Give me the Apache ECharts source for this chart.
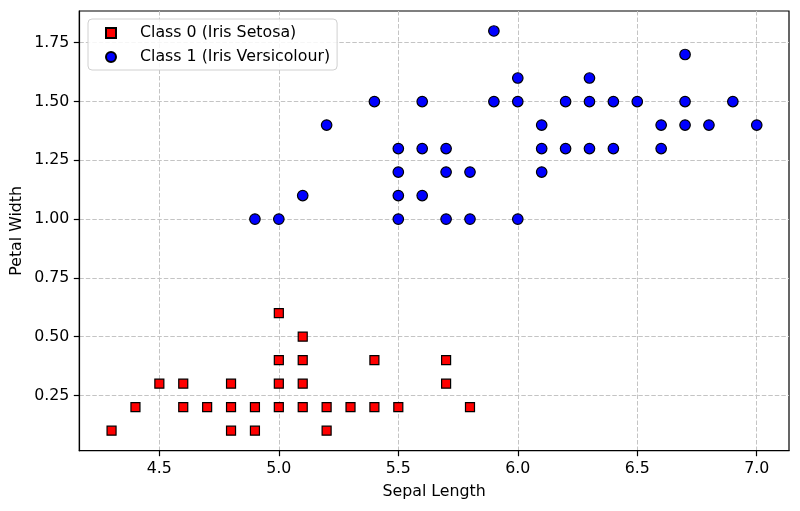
<!DOCTYPE html>
<html>
<head>
<meta charset="utf-8">
<script src="https://cdn.jsdelivr.net/npm/echarts@6/dist/echarts.min.js"></script>
<style>
  html, body { margin: 0; padding: 0; background: #fff; }
  #chart { width: 800px; height: 511px; }
</style>
</head>
<body>
<div id="chart"></div>
<script>
// Iris: sepal length (x) vs petal width (y)
var setosaX = [5.0, 5.1, 5.0, 5.1, 5.4, 5.7, 4.5, 4.6, 4.8, 5.0, 5.1, 5.7,
  4.4, 4.6, 4.7, 4.8, 4.9, 5.0, 5.1, 5.2, 5.3, 5.4, 5.5, 5.8, 4.3, 4.8, 4.9, 5.2];
var setosaY = [0.6, 0.5, 0.4, 0.4, 0.4, 0.4, 0.3, 0.3, 0.3, 0.3, 0.3, 0.3,
  0.2, 0.2, 0.2, 0.2, 0.2, 0.2, 0.2, 0.2, 0.2, 0.2, 0.2, 0.2, 0.1, 0.1, 0.1, 0.1];

var versiX = [5.9, 6.7, 6.0, 6.3,
  5.4, 5.6, 5.9, 6.0, 6.2, 6.3, 6.4, 6.5, 6.7, 6.9,
  5.2, 6.1, 6.6, 6.7, 6.8, 7.0,
  5.5, 5.6, 5.7, 6.1, 6.2, 6.3, 6.4, 6.6,
  5.5, 5.7, 5.8, 6.1,
  5.1, 5.5, 5.6,
  4.9, 5.0, 5.5, 5.7, 5.8, 6.0];
var versiY = [1.8, 1.7, 1.6, 1.6,
  1.5, 1.5, 1.5, 1.5, 1.5, 1.5, 1.5, 1.5, 1.5, 1.5,
  1.4, 1.4, 1.4, 1.4, 1.4, 1.4,
  1.3, 1.3, 1.3, 1.3, 1.3, 1.3, 1.3, 1.3,
  1.2, 1.2, 1.2, 1.2,
  1.1, 1.1, 1.1,
  1.0, 1.0, 1.0, 1.0, 1.0, 1.0];

var xTicks = [4.5, 5.0, 5.5, 6.0, 6.5, 7.0];
var yTicks = [0.25, 0.50, 0.75, 1.00, 1.25, 1.50, 1.75];

var names = ['Class 0 (Iris Setosa)', 'Class 1 (Iris Versicolour)'];

function pairs(xs, ys) {
  return xs.map(function (x, i) { return [x, ys[i]]; });
}

var FONT = 'DejaVu Sans';
var FS = 15.8;

var gridLine = {
  show: true,
  lineStyle: { color: '#c4c4c4', width: 1, type: [4.5, 2] }
};

var chart = echarts.init(document.getElementById('chart'));

var option = {
  backgroundColor: '#fff',
  animation: false,
  textStyle: { fontFamily: FONT, color: '#000' },
  grid: {
    left: 79.3, right: 11, top: 11, bottom: 60.3,
    show: true,
    borderColor: '#000',
    borderWidth: 1.2,
    backgroundColor: 'transparent',
    outerBoundsMode: 'none'
  },
  legend: {
    orient: 'vertical',
    left: 88, top: 19,
    padding: [6, 7, 5, 17],
    itemGap: 8,
    itemWidth: 10, itemHeight: 10,
    backgroundColor: 'rgba(255,255,255,0.85)',
    borderColor: '#d0d0d0',
    borderWidth: 1,
    borderRadius: 4,
    textStyle: { fontFamily: FONT, fontSize: FS, color: '#000', padding: [0, 0, 0, 19] },
    data: [
      { name: names[0], icon: 'rect' },
      { name: names[1], icon: 'circle' }
    ]
  },
  xAxis: {
    type: 'value',
    name: 'Sepal Length',
    nameLocation: 'middle',
    nameGap: 33.5,
    nameMoveOverlap: false,
    nameTextStyle: { fontFamily: FONT, fontSize: FS, color: '#000' },
    min: function (v) { return v.min - 0.05 * (v.max - v.min); },
    max: function (v) { return v.max + 0.05 * (v.max - v.min); },
    axisLine: { show: true, lineStyle: { color: '#000', width: 1.2 } },
    axisTick: { show: true, length: 5.5, customValues: xTicks, lineStyle: { color: '#000', width: 1.2 } },
    axisLabel: {
      customValues: xTicks,
      margin: 10,
      fontFamily: FONT, fontSize: FS, color: '#000',
      formatter: function (v) { return v.toFixed(1); }
    },
    splitLine: gridLine
  },
  yAxis: {
    type: 'value',
    name: 'Petal Width',
    nameLocation: 'middle',
    nameGap: 54,
    nameMoveOverlap: false,
    nameTextStyle: { fontFamily: FONT, fontSize: FS, color: '#000' },
    min: function (v) { return v.min - 0.05 * (v.max - v.min); },
    max: function (v) { return v.max + 0.05 * (v.max - v.min); },
    axisLine: { show: true, lineStyle: { color: '#000', width: 1.2 } },
    axisTick: { show: true, length: 5.5, customValues: yTicks, lineStyle: { color: '#000', width: 1.2 } },
    axisLabel: {
      customValues: yTicks,
      margin: 10,
      fontFamily: FONT, fontSize: FS, color: '#000',
      formatter: function (v) { return v.toFixed(2); }
    },
    splitLine: gridLine
  },
  series: [
    {
      name: names[0],
      type: 'scatter',
      symbol: 'rect',
      symbolSize: 9,
      data: pairs(setosaX, setosaY),
      itemStyle: { color: '#ff0000', borderColor: '#000', borderWidth: 1.2, opacity: 1 },
      emphasis: { disabled: true }
    },
    {
      name: names[1],
      type: 'scatter',
      symbol: 'circle',
      symbolSize: 10.5,
      data: pairs(versiX, versiY),
      itemStyle: { color: '#0000ff', borderColor: '#000', borderWidth: 1.2, opacity: 1 },
      emphasis: { disabled: true }
    }
  ]
};

chart.setOption(option);
</script>
</body>
</html>
